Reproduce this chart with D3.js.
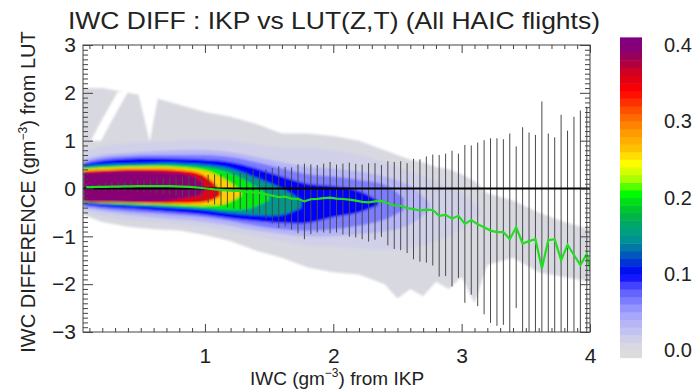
<!DOCTYPE html>
<html>
<head>
<meta charset="utf-8">
<script src="https://cdn.jsdelivr.net/npm/d3@7"></script>
<style>
  html, body { margin: 0; padding: 0; background: #fff; }
  svg { display: block; font-family: "Liberation Sans", Arial, Helvetica, sans-serif; }
</style>
</head>
<body>
<svg id="chart" width="698" height="391"></svg>
<script>
// ---- values ----

// IKP IWC bins (gm-3), bin centres
const binCenters = [0.075, 0.125, 0.175, 0.225, 0.275, 0.325, 0.375, 0.425, 0.475, 0.525,
  0.575, 0.625, 0.675, 0.725, 0.775, 0.825, 0.875, 0.925, 0.975, 1.025,
  1.075, 1.125, 1.175, 1.225, 1.275, 1.325, 1.375, 1.425, 1.475, 1.525,
  1.575, 1.625, 1.675, 1.725, 1.775, 1.825, 1.875, 1.925, 1.975, 2.025,
  2.075, 2.125, 2.175, 2.225, 2.275, 2.325, 2.375, 2.425, 2.475, 2.525,
  2.575, 2.625, 2.675, 2.725, 2.775, 2.825, 2.875, 2.925, 2.975, 3.025,
  3.075, 3.125, 3.175, 3.225, 3.275, 3.325, 3.375, 3.425, 3.475, 3.525,
  3.575, 3.625, 3.675, 3.725, 3.775, 3.825, 3.875, 3.925, 3.975, 4.025];

// mean difference LUT - IKP per bin (green line)
const meanDiff = [0.03, 0.03, 0.035, 0.035, 0.04, 0.04, 0.045, 0.045, 0.05, 0.05,
  0.05, 0.05, 0.05, 0.05, 0.045, 0.04, 0.035, 0.025, 0.01, -0.005,
  -0.02, -0.03, -0.04, -0.05, -0.05, -0.07, -0.08, -0.09, -0.12, -0.15,
  -0.18, -0.17, -0.21, -0.215, -0.27, -0.225, -0.215, -0.2, -0.19, -0.21,
  -0.22, -0.233, -0.255, -0.28, -0.29, -0.27, -0.26, -0.31, -0.355, -0.36,
  -0.41, -0.43, -0.46, -0.44, -0.45, -0.57, -0.55, -0.63, -0.57, -0.74,
  -0.66, -0.75, -0.81, -0.88, -0.91, -0.91, -1.06, -0.81, -1.15, -1.10,
  -1.06, -1.67, -1.08, -1.06, -1.50, -1.18, -1.39, -1.60, -1.37, -1.97];

// standard deviation per bin (black bars = mean +/- std)
const stdDiff = [0.06, 0.07, 0.08, 0.085, 0.09, 0.1, 0.105, 0.11, 0.12, 0.13,
  0.14, 0.15, 0.16, 0.175, 0.19, 0.21, 0.23, 0.25, 0.26, 0.295,
  0.315, 0.33, 0.355, 0.37, 0.385, 0.42, 0.475, 0.45, 0.525, 0.58,
  0.645, 0.62, 0.65, 0.72, 0.79, 0.73, 0.705, 0.72, 0.745, 0.71,
  0.74, 0.774, 0.77, 0.78, 0.82, 0.80, 0.75, 0.88, 0.91, 0.93,
  0.94, 1.05, 1.07, 1.11, 1.16, 1.27, 1.28, 1.42, 1.3, 1.65,
  1.56, 1.71, 1.82, 1.93, 1.96, 1.94, 2.21, 1.69, 2.43, 2.27,
  2.18, 3.49, 2.23, 2.13, 3.04, 2.39, 2.89, 3.23, 3.08, 3.1];

// frequency contours of the 2-D histogram: x samples, upper and lower edge
const greyX   = [0.05, 0.2, 0.4, 0.6, 0.8, 1.0, 1.2, 1.4, 1.6, 1.8, 2.0, 2.2, 2.4, 2.5, 2.6, 2.7, 2.8, 2.9, 3.0, 3.1, 3.2, 3.4, 3.6, 3.8, 4.0];
const greyTop = [2.1, 2.1, 2.0, 1.9, 1.75, 1.6, 1.5, 1.35, 1.15, 1.15, 1.1, 1.0, 0.8, 0.7, 0.6, 0.55, 0.45, 0.4, 0.3, 0.15, -0.1, -0.25, -0.5, -0.7, -0.85];
const greyBot = [-0.55, -0.7, -0.8, -0.85, -0.88, -0.97, -1.1, -1.3, -1.45, -1.65, -1.75, -1.8, -2.0, -2.3, -2.1, -2.25, -1.95, -2.1, -1.85, -2.4, -1.6, -1.45, -1.75, -1.85, -1.95];

const lavX   = [0.05, 0.2, 0.4, 0.6, 0.8, 1.0, 1.2, 1.4, 1.6, 1.8, 2.0, 2.2, 2.4, 2.6, 2.8, 3.0, 3.15];
const lavTop = [0.75, 0.88, 0.95, 0.97, 1.0, 1.02, 1.0, 0.92, 0.85, 0.85, 0.8, 0.7, 0.55, 0.35, 0.15, -0.1, -0.45];
const lavBot = [-0.5, -0.58, -0.66, -0.7, -0.75, -0.8, -0.9, -1.0, -1.1, -1.2, -1.22, -1.25, -1.28, -1.25, -1.1, -0.85, -0.5];

const lightBlueX   = [0.05, 0.2, 0.4, 0.6, 0.8, 1.0, 1.2, 1.4, 1.6, 1.8, 2.0, 2.2, 2.4, 2.6, 2.75];
const lightBlueTop = [0.6, 0.7, 0.75, 0.78, 0.8, 0.8, 0.76, 0.66, 0.55, 0.45, 0.42, 0.35, 0.25, 0.05, -0.3];
const lightBlueBot = [-0.42, -0.48, -0.55, -0.6, -0.65, -0.7, -0.78, -0.88, -0.95, -1.0, -1.0, -0.95, -0.9, -0.75, -0.45];

const midBlueX   = [0.05, 0.2, 0.4, 0.6, 0.8, 1.0, 1.2, 1.4, 1.6, 1.8, 2.0, 2.2, 2.4, 2.55];
const midBlueTop = [0.55, 0.64, 0.68, 0.7, 0.7, 0.7, 0.66, 0.55, 0.42, 0.3, 0.25, 0.18, 0.08, -0.2];
const midBlueBot = [-0.37, -0.43, -0.48, -0.52, -0.56, -0.6, -0.68, -0.78, -0.85, -0.88, -0.85, -0.78, -0.65, -0.45];

const blueX   = [0.05, 0.2, 0.4, 0.6, 0.8, 1.0, 1.2, 1.4, 1.6, 1.8, 2.0, 2.2, 2.35];
const blueTop = [0.5, 0.58, 0.62, 0.63, 0.62, 0.6, 0.55, 0.42, 0.25, 0.1, 0.05, -0.05, -0.25];
const blueBot = [-0.34, -0.38, -0.42, -0.46, -0.5, -0.55, -0.62, -0.68, -0.72, -0.72, -0.6, -0.5, -0.35];

const tealX   = [0.05, 0.2, 0.4, 0.6, 0.8, 1.0, 1.2, 1.4, 1.6, 1.75];
const tealTop = [0.46, 0.5, 0.52, 0.53, 0.53, 0.5, 0.42, 0.22, 0.0, -0.25];
const tealBot = [-0.31, -0.33, -0.36, -0.38, -0.41, -0.45, -0.52, -0.56, -0.55, -0.4];

const greenX   = [0.05, 0.2, 0.4, 0.6, 0.8, 1.0, 1.2, 1.35, 1.5];
const greenTop = [0.43, 0.46, 0.48, 0.49, 0.48, 0.44, 0.32, 0.12, -0.15];
const greenBot = [-0.3, -0.31, -0.33, -0.35, -0.38, -0.41, -0.45, -0.42, -0.25];

const yellowX   = [0.05, 0.2, 0.4, 0.6, 0.8, 1.0, 1.15, 1.28];
const yellowTop = [0.4, 0.43, 0.45, 0.46, 0.44, 0.37, 0.2, -0.05];
const yellowBot = [-0.29, -0.3, -0.31, -0.33, -0.34, -0.36, -0.32, -0.15];

const redX   = [0.05, 0.2, 0.4, 0.6, 0.8, 0.95, 1.05, 1.12];
const redTop = [0.36, 0.38, 0.4, 0.4, 0.38, 0.32, 0.16, -0.05];
const redBot = [-0.28, -0.29, -0.3, -0.31, -0.31, -0.3, -0.25, -0.15];

const purpleX   = [0.05, 0.2, 0.4, 0.6, 0.75, 0.85, 0.92, 0.97, 1.0];
const purpleTop = [0.32, 0.34, 0.36, 0.35, 0.33, 0.3, 0.24, 0.14, 0.02];
const purpleBot = [-0.27, -0.27, -0.28, -0.28, -0.25, -0.2, -0.17, -0.12, -0.03];

// frequency level of each contour band, outermost first
const bandLevels = [0.004, 0.013, 0.035, 0.065, 0.1, 0.15, 0.2, 0.26, 0.35, 0.395];

// white gaps inside the upper-left grey region
const gapA = [[0.11, 1.0], [0.2, 1.45], [0.32, 2.02], [0.4, 2.02], [0.28, 1.45], [0.19, 1.0]];
const gapB = [[0.48, 2.0], [0.64, 2.0], [0.57, 0.98]];

const xTickValues = [1, 2, 3, 4];
const yTickValues = [-3, -2, -1, 0, 1, 2, 3];
const cbTickValues = [0.0, 0.1, 0.2, 0.3, 0.4];
const cbStops  = [0, 0.02, 0.05, 0.08, 0.1, 0.123, 0.14, 0.156, 0.173, 0.19, 0.206, 0.223, 0.244, 0.265, 0.29, 0.315, 0.34, 0.365, 0.381, 0.4];
const cbColors = ["#dcdcdc", "#cacaee", "#a0a0ff", "#5858ff", "#0000ff", "#0050c0", "#008a9a", "#00a080", "#00b050", "#00d020",
  "#00ff00", "#a0ff00", "#ffff00", "#ffc000", "#ff9000", "#ff5000", "#ff0000", "#d00020", "#a00050", "#800080"];

// ---- drawing ----
const svg = d3.select('#chart');
const plot = {left: 83, right: 590, top: 45, bottom: 332};

const x = d3.scaleLinear().domain([0.05, 4]).range([plot.left, plot.right]);
const y = d3.scaleLinear().domain([-3, 3]).range([plot.bottom, plot.top]);
const color = d3.scaleLinear().domain(cbStops).range(cbColors).clamp(true);

const defs = svg.append('defs');
defs.append('clipPath').attr('id', 'plotClip')
  .append('rect')
  .attr('x', plot.left).attr('y', plot.top)
  .attr('width', plot.right - plot.left).attr('height', plot.bottom - plot.top);
defs.append('filter').attr('id', 'soft')
  .append('feGaussianBlur').attr('stdDeviation', 1.1);

const zip = (xs, tops, bots) => xs.map((v, i) => [v, tops[i], bots[i]]);
const bands = [
  zip(greyX, greyTop, greyBot),
  zip(lavX, lavTop, lavBot),
  zip(lightBlueX, lightBlueTop, lightBlueBot),
  zip(midBlueX, midBlueTop, midBlueBot),
  zip(blueX, blueTop, blueBot),
  zip(tealX, tealTop, tealBot),
  zip(greenX, greenTop, greenBot),
  zip(yellowX, yellowTop, yellowBot),
  zip(redX, redTop, redBot),
  zip(purpleX, purpleTop, purpleBot)
];

const clipped = svg.append('g').attr('clip-path', 'url(#plotClip)');
const density = clipped.append('g').attr('filter', 'url(#soft)');

bands.forEach((band, i) => {
  const area = d3.area()
    .x(d => x(d[0]))
    .y0(d => y(d[2]))
    .y1(d => y(d[1]))
    .curve(i === 0 ? d3.curveLinear : d3.curveCatmullRom.alpha(0.5));
  density.append('path')
    .datum(band)
    .attr('d', area)
    .attr('fill', color(bandLevels[i]));
  if (i === 0) {
    [gapA, gapB].forEach(g => {
      density.append('path')
        .attr('d', d3.line().x(d => x(d[0])).y(d => y(d[1])).curve(d3.curveLinearClosed)(g))
        .attr('fill', '#fff');
    });
  }
});

// error bars
clipped.append('g')
  .selectAll('line')
  .data(binCenters.map((c, i) => ({c, m: meanDiff[i], s: stdDiff[i]})))
  .enter().append('line')
  .attr('x1', d => x(d.c)).attr('x2', d => x(d.c))
  .attr('y1', d => y(d.m + d.s)).attr('y2', d => y(d.m - d.s))
  .attr('stroke', '#4a4a4a')
  .attr('stroke-width', 1);

// zero line
clipped.append('line')
  .attr('x1', plot.left).attr('x2', plot.right)
  .attr('y1', y(0)).attr('y2', y(0))
  .attr('stroke', '#000').attr('stroke-width', 2);

// mean difference
clipped.append('path')
  .datum(binCenters.map((c, i) => [c, meanDiff[i]]))
  .attr('d', d3.line().x(d => x(d[0])).y(d => y(d[1])))
  .attr('fill', 'none')
  .attr('stroke', '#22dd22')
  .attr('stroke-width', 2.2);

// axes with inward ticks, minor every 0.1
const xMinor = d3.range(1, 40).map(i => i / 10).filter(v => v % 1 !== 0);
const yMinor = d3.range(-30, 31).map(i => i / 10).filter(v => Math.abs(v % 1) > 1e-9);
const axisColor = '#444';

function styleAxis(g) {
  g.select('.domain').remove();
  g.selectAll('line').attr('stroke', axisColor);
  g.selectAll('text').attr('fill', '#222').attr('font-size', 21);
}

svg.append('g').attr('transform', `translate(0,${plot.bottom})`)
  .call(d3.axisBottom(x).tickValues(xMinor).tickSize(-4).tickFormat(''))
  .call(styleAxis);
svg.append('g').attr('transform', `translate(0,${plot.bottom})`)
  .call(d3.axisBottom(x).tickValues(xTickValues).tickSize(-8).tickPadding(16).tickFormat(d3.format('d')))
  .call(styleAxis);
svg.append('g').attr('transform', `translate(0,${plot.top})`)
  .call(d3.axisTop(x).tickValues(xMinor).tickSize(-4).tickFormat(''))
  .call(styleAxis);
svg.append('g').attr('transform', `translate(0,${plot.top})`)
  .call(d3.axisTop(x).tickValues(xTickValues).tickSize(-8).tickFormat(''))
  .call(styleAxis);

svg.append('g').attr('transform', `translate(${plot.left},0)`)
  .call(d3.axisLeft(y).tickValues(yMinor).tickSize(-5).tickFormat(''))
  .call(styleAxis);
svg.append('g').attr('transform', `translate(${plot.left},0)`)
  .call(d3.axisLeft(y).tickValues(yTickValues).tickSize(-10).tickPadding(7).tickFormat(d3.format('d')))
  .call(styleAxis);
svg.append('g').attr('transform', `translate(${plot.right},0)`)
  .call(d3.axisRight(y).tickValues(yMinor).tickSize(-5).tickFormat(''))
  .call(styleAxis);
svg.append('g').attr('transform', `translate(${plot.right},0)`)
  .call(d3.axisRight(y).tickValues(yTickValues).tickSize(-10).tickFormat(''))
  .call(styleAxis);

svg.append('rect')
  .attr('x', plot.left).attr('y', plot.top)
  .attr('width', plot.right - plot.left).attr('height', plot.bottom - plot.top)
  .attr('fill', 'none').attr('stroke', axisColor).attr('stroke-width', 1);

// titles
svg.append('text')
  .attr('x', 68).attr('y', 29)
  .attr('font-size', 24).attr('fill', '#222')
  .attr('textLength', 532).attr('lengthAdjust', 'spacingAndGlyphs')
  .text('IWC DIFF : IKP vs LUT(Z,T) (All HAIC flights)');

const xLabel = svg.append('text')
  .attr('x', 337).attr('y', 385)
  .attr('text-anchor', 'middle')
  .attr('font-size', 19).attr('fill', '#222');
xLabel.append('tspan').text('IWC (gm');
xLabel.append('tspan').attr('font-size', 12).attr('dy', -8).text('−3');
xLabel.append('tspan').attr('dy', 8).text(') from IKP');

const yLabel = svg.append('text')
  .attr('transform', 'translate(35,192) rotate(-90)')
  .attr('text-anchor', 'middle')
  .attr('font-size', 20).attr('fill', '#222');
yLabel.append('tspan').text('IWC DIFFERENCE (gm');
yLabel.append('tspan').attr('font-size', 12).attr('dy', -8).text('−3');
yLabel.append('tspan').attr('dy', 8).text(') from LUT');

// colour bar
const cb = d3.scaleLinear().domain([0, 0.4]).range([350, 45]);
const cbSteps = d3.range(-1, 41).map(i => i / 100);
svg.append('g')
  .selectAll('rect')
  .data(cbSteps)
  .enter().append('rect')
  .attr('x', 620).attr('width', 22)
  .attr('y', d => cb(d + 0.01))
  .attr('height', d => cb(d) - cb(d + 0.01) + 0.5)
  .attr('fill', d => color(d + 0.005));

svg.append('g')
  .selectAll('text')
  .data(cbTickValues)
  .enter().append('text')
  .attr('x', 664).attr('y', d => cb(d))
  .attr('dy', '0.36em')
  .attr('font-size', 20).attr('fill', '#222')
  .text(d => d3.format('.1f')(d));
</script>
</body>
</html>
